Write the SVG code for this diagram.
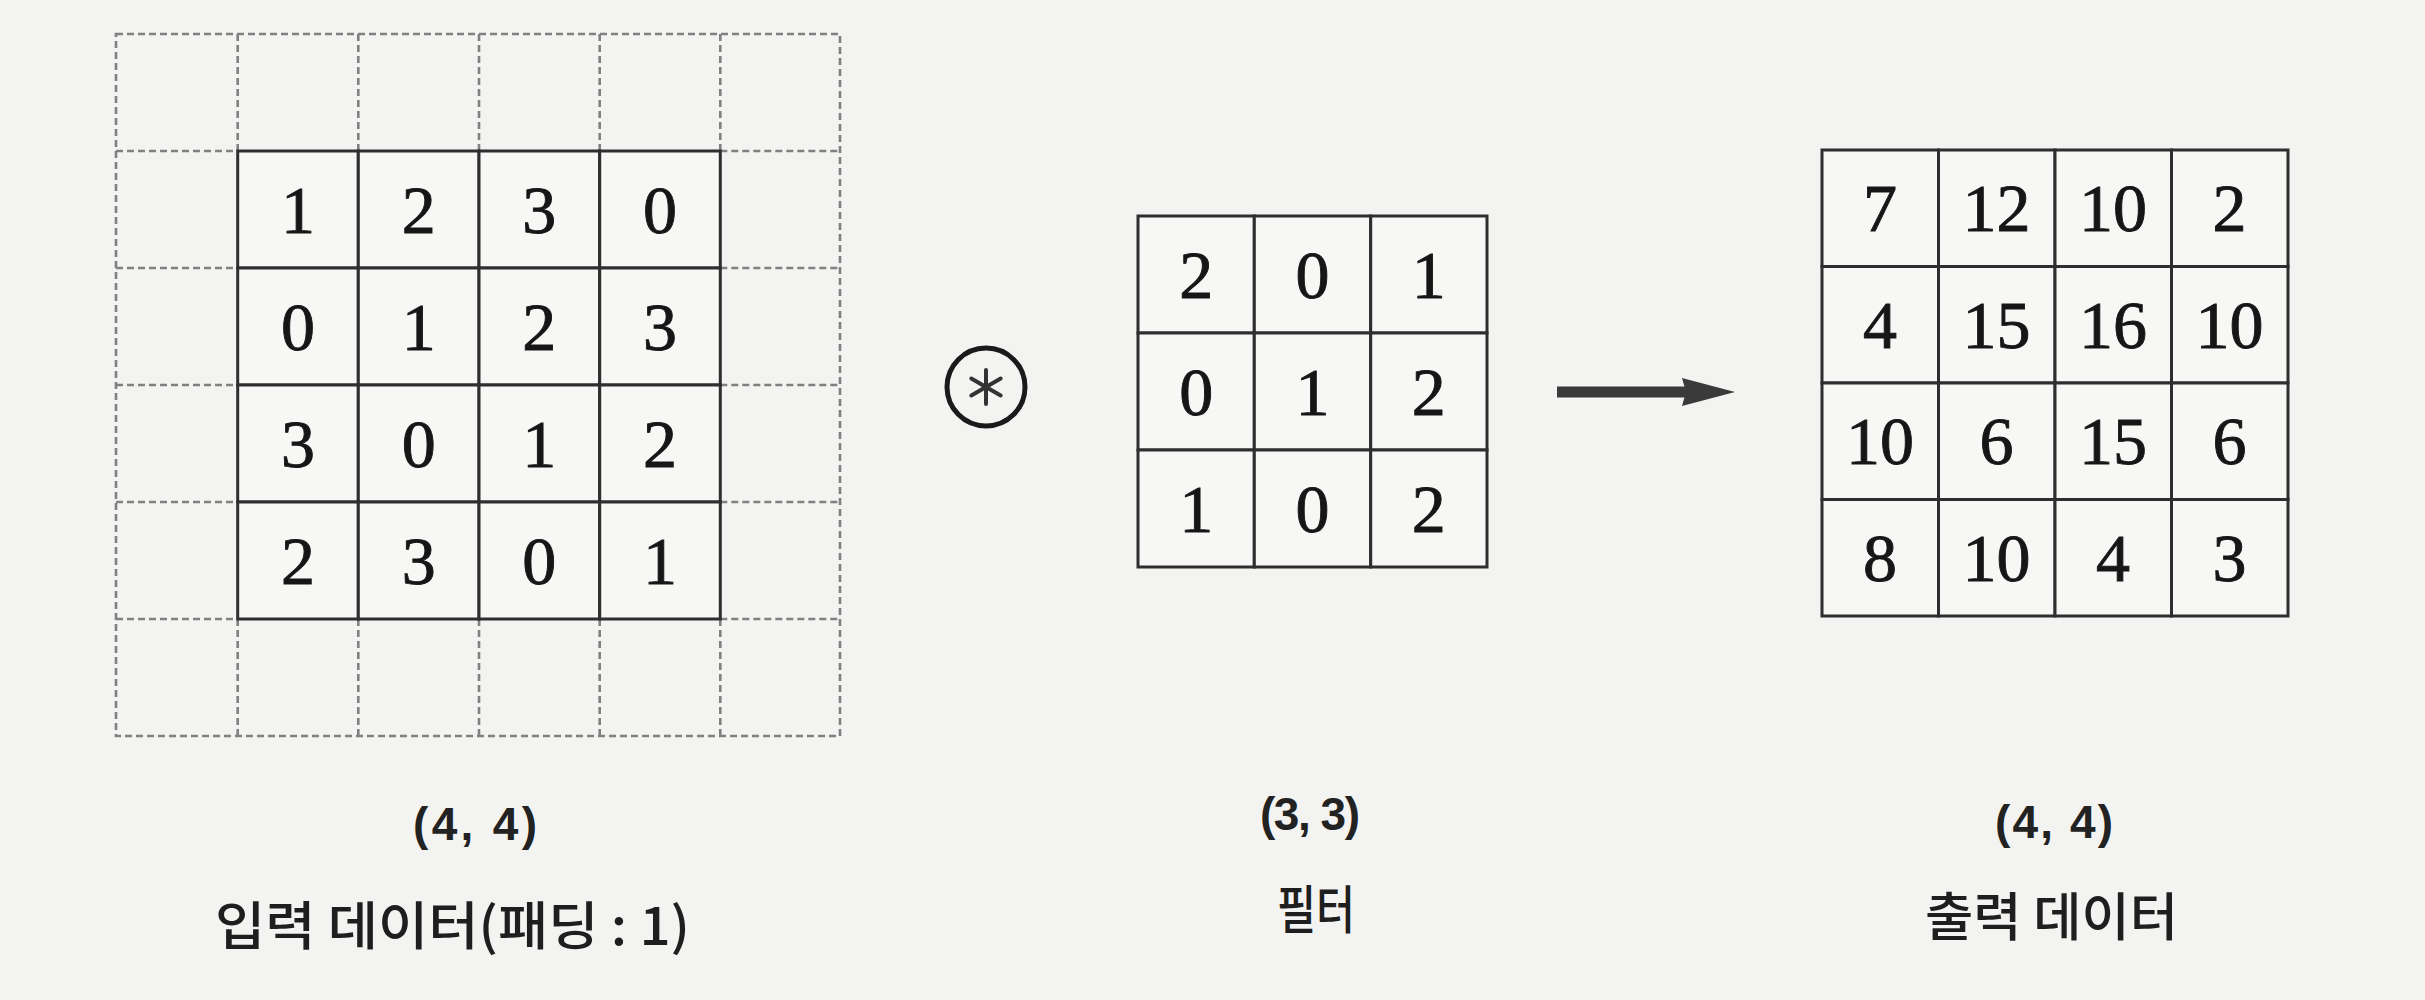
<svg xmlns="http://www.w3.org/2000/svg" width="2425" height="1000" viewBox="0 0 2425 1000">
<style>
.bg{fill:#f3f3f2}
.cell{fill:#f7f7f6;stroke:#2e2e2e;stroke-width:3}
.pad{fill:none;stroke:#808080;stroke-width:2.6;stroke-dasharray:7 4}
.num{font-family:"Liberation Serif","DejaVu Serif",serif;font-size:68px;fill:#161616;stroke:#161616;stroke-width:0.9;text-anchor:middle}
.dim{font-family:"Liberation Sans","Noto Sans CJK KR",sans-serif;font-size:46px;font-weight:bold;fill:#222;text-anchor:middle}
.ko{font-family:"Noto Sans CJK KR","Liberation Sans",sans-serif;font-size:52px;font-weight:500;fill:#1e1e1e}
.op{fill:none;stroke:#1a1a1a;stroke-width:5}
.ast{stroke:#333;stroke-width:4;stroke-linecap:round}
.arrow{stroke:#3a3a3a;stroke-width:11}
</style>
<defs>
<marker id="head" markerUnits="userSpaceOnUse" markerWidth="56" markerHeight="30" refX="6" refY="15" orient="auto">
<path d="M0,1 L53,15 L0,29 L4,15 Z" fill="#3a3a3a"/>
</marker>
</defs>
<rect class="bg" x="0" y="0" width="2425" height="1000"/>

<g id="input-data">
<g id="input-padding">
<rect class="pad" x="116" y="34" width="724" height="702"/>
<path class="pad" d="M237.7,34V151M358.3,34V151M479,34V151M599.7,34V151M720.3,34V151M237.7,619V736M358.3,619V736M479,619V736M599.7,619V736M720.3,619V736M116,151H237.7M116,268H237.7M116,385H237.7M116,502H237.7M116,619H237.7M720.3,151H840M720.3,268H840M720.3,385H840M720.3,502H840M720.3,619H840"/>
</g>
<g id="input-cells">
<rect class="cell" x="237.7" y="151" width="120.6" height="117"/>
<rect class="cell" x="358.3" y="151" width="120.7" height="117"/>
<rect class="cell" x="479" y="151" width="120.7" height="117"/>
<rect class="cell" x="599.7" y="151" width="120.6" height="117"/>
<rect class="cell" x="237.7" y="268" width="120.6" height="117"/>
<rect class="cell" x="358.3" y="268" width="120.7" height="117"/>
<rect class="cell" x="479" y="268" width="120.7" height="117"/>
<rect class="cell" x="599.7" y="268" width="120.6" height="117"/>
<rect class="cell" x="237.7" y="385" width="120.6" height="117"/>
<rect class="cell" x="358.3" y="385" width="120.7" height="117"/>
<rect class="cell" x="479" y="385" width="120.7" height="117"/>
<rect class="cell" x="599.7" y="385" width="120.6" height="117"/>
<rect class="cell" x="237.7" y="502" width="120.6" height="117"/>
<rect class="cell" x="358.3" y="502" width="120.7" height="117"/>
<rect class="cell" x="479" y="502" width="120.7" height="117"/>
<rect class="cell" x="599.7" y="502" width="120.6" height="117"/>
</g>
<g id="input-values">
<text class="num" x="298" y="233">1</text><text class="num" x="418.7" y="233">2</text><text class="num" x="539.3" y="233">3</text><text class="num" x="660" y="233">0</text>
<text class="num" x="298" y="350">0</text><text class="num" x="418.7" y="350">1</text><text class="num" x="539.3" y="350">2</text><text class="num" x="660" y="350">3</text>
<text class="num" x="298" y="467">3</text><text class="num" x="418.7" y="467">0</text><text class="num" x="539.3" y="467">1</text><text class="num" x="660" y="467">2</text>
<text class="num" x="298" y="584">2</text><text class="num" x="418.7" y="584">3</text><text class="num" x="539.3" y="584">0</text><text class="num" x="660" y="584">1</text>
</g>
</g>

<g id="operator">
<circle class="op" cx="986" cy="387" r="39"/>
<path class="ast" d="M986,370V404M971.3,378.5L1000.7,395.5M971.3,395.5L1000.7,378.5"/>
</g>

<g id="filter">
<rect class="cell" x="1138" y="216" width="116.3" height="117"/>
<rect class="cell" x="1254.3" y="216" width="116.4" height="117"/>
<rect class="cell" x="1370.7" y="216" width="116.3" height="117"/>
<rect class="cell" x="1138" y="333" width="116.3" height="117"/>
<rect class="cell" x="1254.3" y="333" width="116.4" height="117"/>
<rect class="cell" x="1370.7" y="333" width="116.3" height="117"/>
<rect class="cell" x="1138" y="450" width="116.3" height="117"/>
<rect class="cell" x="1254.3" y="450" width="116.4" height="117"/>
<rect class="cell" x="1370.7" y="450" width="116.3" height="117"/>
<text class="num" x="1196.2" y="298">2</text><text class="num" x="1312.5" y="298">0</text><text class="num" x="1428.8" y="298">1</text>
<text class="num" x="1196.2" y="415">0</text><text class="num" x="1312.5" y="415">1</text><text class="num" x="1428.8" y="415">2</text>
<text class="num" x="1196.2" y="532">1</text><text class="num" x="1312.5" y="532">0</text><text class="num" x="1428.8" y="532">2</text>
</g>

<g id="connectors">
<line class="arrow" x1="1557" y1="392" x2="1688" y2="392" marker-end="url(#head)"/>
</g>

<g id="output-data">
<rect class="cell" x="1822" y="150" width="116.5" height="116.5"/>
<rect class="cell" x="1938.5" y="150" width="116.5" height="116.5"/>
<rect class="cell" x="2055" y="150" width="116.5" height="116.5"/>
<rect class="cell" x="2171.5" y="150" width="116.5" height="116.5"/>
<rect class="cell" x="1822" y="266.5" width="116.5" height="116.5"/>
<rect class="cell" x="1938.5" y="266.5" width="116.5" height="116.5"/>
<rect class="cell" x="2055" y="266.5" width="116.5" height="116.5"/>
<rect class="cell" x="2171.5" y="266.5" width="116.5" height="116.5"/>
<rect class="cell" x="1822" y="383" width="116.5" height="116.5"/>
<rect class="cell" x="1938.5" y="383" width="116.5" height="116.5"/>
<rect class="cell" x="2055" y="383" width="116.5" height="116.5"/>
<rect class="cell" x="2171.5" y="383" width="116.5" height="116.5"/>
<rect class="cell" x="1822" y="499.5" width="116.5" height="116.5"/>
<rect class="cell" x="1938.5" y="499.5" width="116.5" height="116.5"/>
<rect class="cell" x="2055" y="499.5" width="116.5" height="116.5"/>
<rect class="cell" x="2171.5" y="499.5" width="116.5" height="116.5"/>
<text class="num" x="1880" y="231">7</text><text class="num" x="1996.5" y="231">12</text><text class="num" x="2113" y="231">10</text><text class="num" x="2229.5" y="231">2</text>
<text class="num" x="1880" y="348">4</text><text class="num" x="1996.5" y="348">15</text><text class="num" x="2113" y="348">16</text><text class="num" x="2229.5" y="348">10</text>
<text class="num" x="1880" y="464">10</text><text class="num" x="1996.5" y="464">6</text><text class="num" x="2113" y="464">15</text><text class="num" x="2229.5" y="464">6</text>
<text class="num" x="1880" y="581">8</text><text class="num" x="1996.5" y="581">10</text><text class="num" x="2113" y="581">4</text><text class="num" x="2229.5" y="581">3</text>
</g>

<g id="labels">
<text class="dim" x="475" y="840" textLength="124" lengthAdjust="spacing">(4, 4)</text>
<text class="ko" x="215" y="945" textLength="475" lengthAdjust="spacingAndGlyphs">입력 데이터(패딩 : 1)</text>
<text class="dim" x="1310" y="830" textLength="100" lengthAdjust="spacing">(3, 3)</text>
<text class="ko" x="1277" y="929" textLength="78" lengthAdjust="spacingAndGlyphs">필터</text>
<text class="dim" x="2054" y="838" textLength="118" lengthAdjust="spacing">(4, 4)</text>
<text class="ko" x="1925" y="936" textLength="253" lengthAdjust="spacingAndGlyphs">출력 데이터</text>
</g>
</svg>
